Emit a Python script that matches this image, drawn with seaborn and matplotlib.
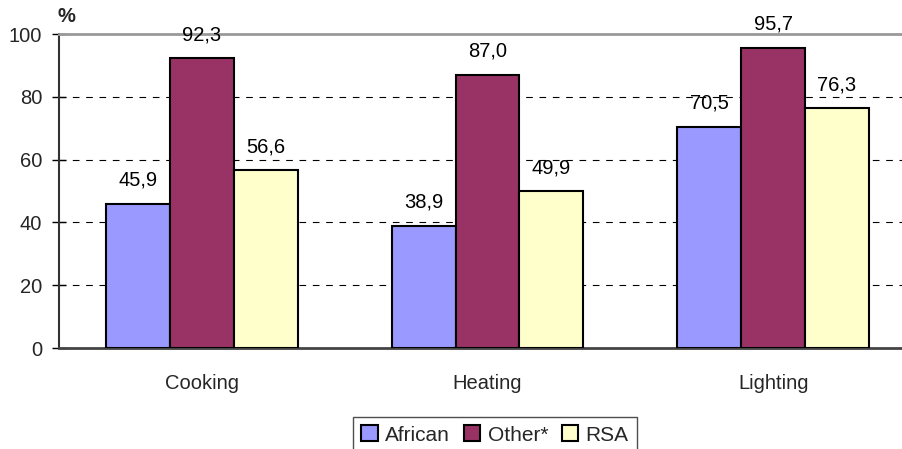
import matplotlib
matplotlib.use("Agg")
import matplotlib.pyplot as plt
import seaborn as sns
import pandas as pd

categories = ["Cooking", "Heating", "Lighting"]
series = ["African", "Other*", "RSA"]
african = [45.9, 38.9, 70.5]
other = [92.3, 87.0, 95.7]
rsa = [56.6, 49.9, 76.3]
yticks = [0, 20, 40, 60, 80, 100]
colors = ["#9999FF", "#993366", "#FFFFCC"]

rows = []
for s, vals in zip(series, [african, other, rsa]):
    for c, v in zip(categories, vals):
        rows.append({"cat": c, "series": s, "val": v})
df = pd.DataFrame(rows)

sns.set_style("white")
plt.rcParams["font.family"] = ["Liberation Sans", "DejaVu Sans"]
FS = 14.5

fig = plt.figure(figsize=(9.03, 4.49), dpi=100)
ax = fig.add_axes([59 / 903, 101 / 449, 857 / 903, 314 / 449])

sns.barplot(data=df, x="cat", y="val", hue="series", order=categories,
            hue_order=series, palette=colors, saturation=1, width=0.67, gap=0,
            edgecolor="black", linewidth=1.5, ax=ax, legend=True, zorder=3)

for cont in ax.containers:
    ax.bar_label(cont, labels=[f"{b.get_height():.1f}".replace(".", ",") for b in cont],
                 padding=10, fontsize=FS, color="black")

ax.set_ylim(0, 100)
ax.set_xlim(-0.5, 2.5)
ax.set_yticks(yticks)
ax.set_yticklabels([str(t) for t in yticks], fontsize=FS)
for t in yticks[1:-1]:
    ax.axhline(t, color="black", linestyle=(0, (6, 6)), linewidth=0.8, zorder=1)

ax.set_xticks([0, 1, 2])
ax.set_xticklabels(categories, fontsize=FS)
ax.tick_params(axis="x", which="major", length=0, pad=19)
ax.set_xticks([-0.5, 0.5, 1.5, 2.5], minor=True)
ax.tick_params(axis="x", which="minor", length=5, width=1, color="black", direction="out")
ax.tick_params(axis="y", length=10, width=1, color="black", direction="inout", left=True, pad=7)

ax.set_xlabel("")
ax.set_ylabel("")
ax.spines["left"].set_color("#333333")
ax.spines["left"].set_linewidth(1.5)
ax.spines["bottom"].set_color("#444444")
ax.spines["bottom"].set_linewidth(2)
ax.spines["top"].set_color("#999999")
ax.spines["top"].set_linewidth(2)
ax.spines["right"].set_visible(False)

ax.text(-0.002, 1.027, "%", transform=ax.transAxes, fontsize=FS, fontweight="bold",
        ha="left", va="bottom")

handles, labels = ax.get_legend_handles_labels()
ax.get_legend().remove()
leg = fig.legend(handles, labels, loc="upper center", bbox_to_anchor=(495 / 903, 1 - 417 / 449),
                 ncol=3, frameon=True, fontsize=15, handlelength=0.8, handleheight=0.8,
                 handletextpad=0.35, columnspacing=0.65, borderpad=0.4, fancybox=False,
                 borderaxespad=0)
leg.get_frame().set_edgecolor("#222222")
leg.get_frame().set_linewidth(1)

fig.savefig("out.png", dpi=100)
